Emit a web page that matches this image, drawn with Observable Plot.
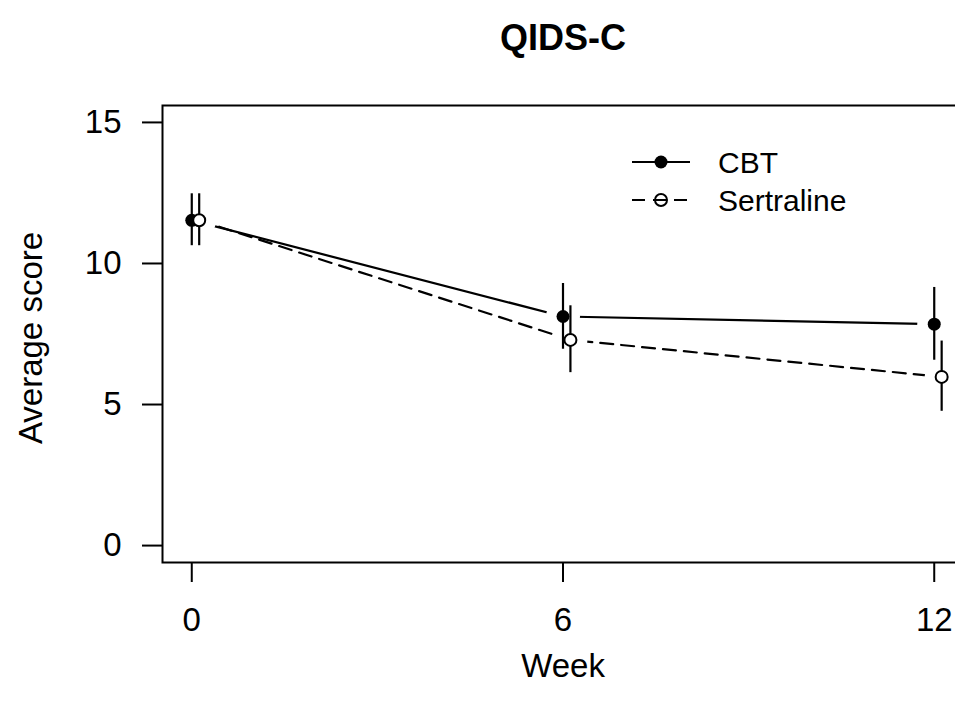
<!DOCTYPE html>
<html>
<head>
<meta charset="utf-8">
<script src="https://cdn.jsdelivr.net/npm/d3@7"></script>
<script src="https://cdn.jsdelivr.net/npm/@observablehq/plot@0.6"></script>
<style>
  html, body { margin: 0; padding: 0; background: white; overflow: hidden; }
  #wrap { position: relative; width: 955px; height: 709px; }
  #legend { position: absolute; left: 0; top: 0; pointer-events: none; }
</style>
</head>
<body>
<div id="wrap"></div>
<script>
const FONT = "'Liberation Sans', Arial, Helvetica, sans-serif";

// ---- data ----
const weeks = [0, 6, 12];
const weekTicks = [0, 6, 12];
const scoreTicks = [0, 5, 10, 15];
const seriesNames = ["CBT", "Sertraline"];
const xOffsets = [0, 0.12];          // small horizontal jitter of Sertraline points
const cbtMean = [11.53, 8.12, 7.85];
const cbtLow  = [10.63, 6.96, 6.57];
const cbtHigh = [12.47, 9.29, 9.15];
const serMean = [11.53, 7.29, 5.98];
const serLow  = [10.63, 6.13, 4.76];
const serHigh = [12.47, 8.50, 7.25];

const means = [cbtMean, serMean];
const lows = [cbtLow, serLow];
const highs = [cbtHigh, serHigh];

const rows = [];
seriesNames.forEach((s, i) => {
  weeks.forEach((w, j) => {
    rows.push({series: s, x: w + xOffsets[i], mean: means[i][j], lo: lows[i][j], hi: highs[i][j]});
  });
});
const cbtRows = rows.filter(d => d.series === "CBT");
const serRows = rows.filter(d => d.series === "Sertraline");

const plot = Plot.plot({
  width: 955,
  height: 709,
  marginLeft: 162,
  marginRight: -8,
  marginTop: 105,
  marginBottom: 147,
  style: {fontFamily: FONT, fontSize: "33px", color: "black", background: "white"},
  x: {domain: [-0.473, 12.473]},
  y: {domain: [-0.6, 15.6]},
  marks: [
    Plot.line(cbtRows, {x: "x", y: "mean", stroke: "black", strokeWidth: 2.2}),
    Plot.line(serRows, {x: "x", y: "mean", stroke: "black", strokeWidth: 2.2, strokeDasharray: "13,8"}),
    // white gaps around each point (R type = "b")
    Plot.dot(rows, {x: "x", y: "mean", r: 17, fill: "white", stroke: null}),
    Plot.ruleX(rows, {x: "x", y1: "lo", y2: "hi", stroke: "black", strokeWidth: 2.2}),
    Plot.dot(cbtRows, {x: "x", y: "mean", r: 6.5, fill: "black", stroke: null}),
    Plot.dot(serRows, {x: "x", y: "mean", r: 6, fill: "white", stroke: "black", strokeWidth: 2}),
    Plot.axisX(weekTicks, {tickSize: 20, tickPadding: 25, strokeWidth: 2, fontSize: 33, label: null, tickFormat: d => String(d)}),
    Plot.axisY(scoreTicks, {tickSize: 20, tickPadding: 21, strokeWidth: 2, fontSize: 33, label: null, tickFormat: d => String(d)}),
    Plot.frame({stroke: "black", strokeWidth: 2}),
    Plot.text(["QIDS-C"], {text: d => d, frameAnchor: "top", dy: -67, fontSize: 36, fontWeight: "bold", lineAnchor: "middle"}),
    Plot.text(["Week"], {text: d => d, frameAnchor: "bottom", dy: 104, fontSize: 33, lineAnchor: "middle"}),
    Plot.text(["Average score"], {text: d => d, frameAnchor: "left", dx: -131, dy: 4, rotate: -90, fontSize: 33, textAnchor: "middle", lineAnchor: "middle"})
  ]
});
document.getElementById("wrap").appendChild(plot);

// ---- legend (top right, inside the frame) ----
const legend = d3.select("#wrap").append("svg")
  .attr("id", "legend").attr("width", 955).attr("height", 709);
const lx0 = 632, lx1 = 690, lxDot = 661, lxText = 718, ly0 = 162, lDy = 38;
seriesNames.forEach((s, i) => {
  const y = ly0 + i * lDy;
  const g = legend.append("g");
  g.append("line").attr("x1", lx0).attr("x2", lx1).attr("y1", y).attr("y2", y)
    .attr("stroke", "black").attr("stroke-width", 2.2)
    .attr("stroke-dasharray", i === 1 ? "13,8" : null);
  if (i === 0) {
    g.append("circle").attr("cx", lxDot).attr("cy", y).attr("r", 6.5).attr("fill", "black");
  } else {
    g.append("circle").attr("cx", lxDot).attr("cy", y).attr("r", 6)
      .attr("fill", "none").attr("stroke", "black").attr("stroke-width", 2);
  }
  g.append("text").attr("x", lxText).attr("y", y).attr("dy", "0.36em")
    .attr("font-family", FONT).attr("font-size", 30).attr("fill", "black").text(s);
});
</script>
</body>
</html>
